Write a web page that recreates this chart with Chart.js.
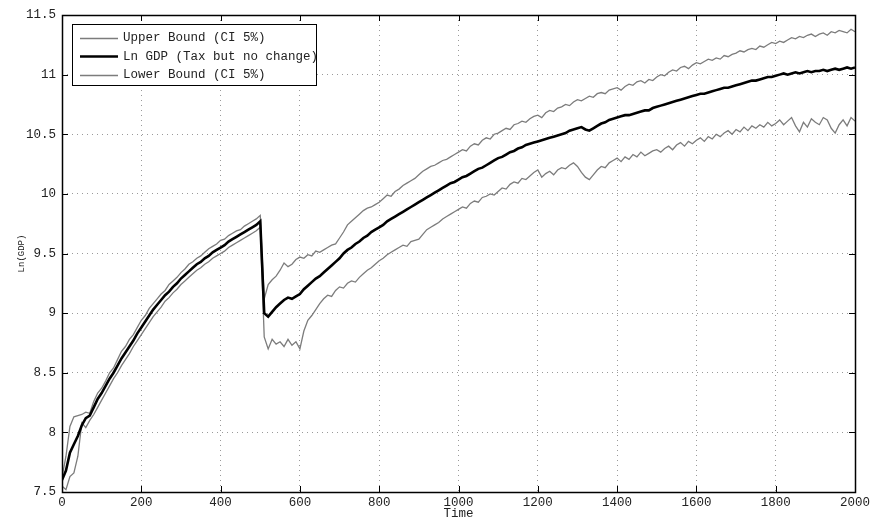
<!DOCTYPE html>
<html>
<head>
<meta charset="utf-8">
<title>Ln GDP</title>
<script src="https://cdn.jsdelivr.net/npm/chart.js@4/dist/chart.umd.min.js"></script>
<style>
  html, body { margin: 0; padding: 0; background: #fff; }
  #wrap { width: 874px; height: 521px; position: relative; }
</style>
</head>
<body>
<div id="wrap"><canvas id="gdpChart"></canvas></div>
<script>
/* ---- data ---- */
const TIME = [
  0,10,20,30,40,50,60,70,80,90,100,110,120,130,140,150,160,170,180,190,
  200,210,220,230,240,250,260,270,280,290,300,310,320,330,340,350,360,370,380,390,
  400,410,420,430,440,450,460,470,480,490,500,510,520,530,540,550,560,570,580,590,
  600,610,620,630,640,650,660,670,680,690,700,710,720,730,740,750,760,770,780,790,
  800,810,820,830,840,850,860,870,880,890,900,910,920,930,940,950,960,970,980,990,
  1000,1010,1020,1030,1040,1050,1060,1070,1080,1090,1100,1110,1120,1130,1140,1150,1160,1170,1180,1190,
  1200,1210,1220,1230,1240,1250,1260,1270,1280,1290,1300,1310,1320,1330,1340,1350,1360,1370,1380,1390,
  1400,1410,1420,1430,1440,1450,1460,1470,1480,1490,1500,1510,1520,1530,1540,1550,1560,1570,1580,1590,
  1600,1610,1620,1630,1640,1650,1660,1670,1680,1690,1700,1710,1720,1730,1740,1750,1760,1770,1780,1790,
  1800,1810,1820,1830,1840,1850,1860,1870,1880,1890,1900,1910,1920,1930,1940,1950,1960,1970,1980,1990,
  2000
];

const UPPER = [
  7.62,7.80,8.05,8.13,8.14,8.15,8.17,8.16,8.26,8.33,
  8.37,8.43,8.50,8.54,8.61,8.68,8.72,8.78,8.82,8.88,
  8.94,8.98,9.04,9.08,9.12,9.16,9.19,9.24,9.27,9.30,
  9.34,9.37,9.41,9.43,9.46,9.48,9.51,9.54,9.56,9.58,
  9.61,9.62,9.65,9.67,9.69,9.70,9.73,9.75,9.77,9.79,
  9.82,
  9.12,9.24,9.28,9.31,9.36,9.42,9.39,9.41,9.45,9.47,
  9.46,9.49,9.48,9.52,9.51,9.53,9.55,9.57,9.58,9.63,
  9.68,9.74,9.77,9.80,9.83,9.86,9.88,9.89,9.91,9.93,
  9.96,9.99,9.98,10.02,10.04,10.07,10.09,10.11,10.13,10.16,
  10.19,10.21,10.23,10.24,10.26,10.28,10.29,10.31,10.33,10.35,
  10.37,10.36,10.40,10.42,10.41,10.45,10.47,10.46,10.50,10.51,
  10.53,10.55,10.54,10.58,10.59,10.61,10.60,10.63,10.65,10.66,
  10.64,10.68,10.70,10.69,10.72,10.73,10.75,10.74,10.77,10.79,
  10.78,10.80,10.82,10.81,10.84,10.85,10.84,10.87,10.88,10.89,
  10.87,10.90,10.92,10.91,10.94,10.95,10.93,10.96,10.95,10.98,
  11.00,10.99,11.02,11.04,11.03,11.06,11.07,11.05,11.08,11.10,
  11.09,11.11,11.13,11.12,11.14,11.13,11.16,11.15,11.17,11.18,
  11.20,11.19,11.21,11.22,11.21,11.24,11.23,11.25,11.27,11.26,
  11.28,11.27,11.29,11.31,11.30,11.32,11.31,11.33,11.34,11.32,
  11.34,11.35,11.33,11.36,11.35,11.37,11.36,11.35,11.38,11.36
];

const LN_GDP = [
  7.60,7.68,7.83,7.90,7.97,8.06,8.12,8.14,8.21,8.28,
  8.33,8.39,8.45,8.50,8.56,8.62,8.67,8.72,8.77,8.83,
  8.88,8.93,8.98,9.03,9.07,9.11,9.15,9.18,9.22,9.25,
  9.29,9.32,9.35,9.38,9.41,9.43,9.46,9.48,9.51,9.53,
  9.55,9.57,9.60,9.62,9.64,9.66,9.68,9.70,9.72,9.74,
  9.77,
  9.00,8.97,9.01,9.05,9.08,9.11,9.13,9.12,9.14,9.16,
  9.20,9.23,9.26,9.29,9.31,9.34,9.37,9.40,9.43,9.46,
  9.50,9.53,9.55,9.58,9.60,9.63,9.65,9.68,9.70,9.72,
  9.74,9.77,9.79,9.81,9.83,9.85,9.87,9.89,9.91,9.93,
  9.95,9.97,9.99,10.01,10.03,10.05,10.07,10.09,10.10,10.12,
  10.14,10.15,10.17,10.19,10.21,10.22,10.24,10.26,10.28,10.30,
  10.31,10.33,10.35,10.36,10.38,10.39,10.41,10.42,10.43,10.44,
  10.45,10.46,10.47,10.48,10.49,10.50,10.51,10.53,10.54,10.55,
  10.56,10.54,10.53,10.55,10.57,10.59,10.60,10.62,10.63,10.64,
  10.65,10.66,10.66,10.67,10.68,10.69,10.70,10.70,10.72,10.73,
  10.74,10.75,10.76,10.77,10.78,10.79,10.80,10.81,10.82,10.83,
  10.84,10.84,10.85,10.86,10.87,10.88,10.89,10.89,10.90,10.91,
  10.92,10.93,10.94,10.95,10.95,10.96,10.97,10.98,10.98,10.99,
  11.00,11.01,11.00,11.01,11.02,11.01,11.02,11.03,11.02,11.03,
  11.03,11.04,11.03,11.04,11.05,11.04,11.05,11.06,11.05,11.06
];

const LOWER = [
  7.55,7.52,7.63,7.66,7.80,8.08,8.04,8.10,8.15,8.21,
  8.27,8.33,8.39,8.45,8.50,8.56,8.61,8.66,8.72,8.77,
  8.82,8.87,8.92,8.97,9.01,9.05,9.10,9.13,9.17,9.20,
  9.24,9.27,9.30,9.33,9.36,9.38,9.41,9.43,9.46,9.48,
  9.50,9.52,9.55,9.57,9.59,9.61,9.63,9.65,9.67,9.69,
  9.72,
  8.80,8.70,8.78,8.74,8.76,8.72,8.78,8.73,8.76,8.70,
  8.85,8.94,8.98,9.03,9.08,9.12,9.15,9.14,9.19,9.22,
  9.21,9.25,9.27,9.26,9.30,9.33,9.36,9.38,9.41,9.44,
  9.46,9.49,9.51,9.53,9.55,9.57,9.56,9.60,9.61,9.62,
  9.66,9.70,9.72,9.74,9.76,9.79,9.81,9.83,9.85,9.87,
  9.89,9.88,9.92,9.94,9.93,9.97,9.98,10.00,9.99,10.02,
  10.05,10.04,10.08,10.10,10.09,10.13,10.12,10.15,10.18,10.20,
  10.14,10.17,10.19,10.16,10.20,10.22,10.21,10.24,10.26,10.23,
  10.18,10.14,10.12,10.16,10.20,10.23,10.22,10.26,10.28,10.30,
  10.27,10.31,10.29,10.33,10.31,10.35,10.32,10.34,10.36,10.37,
  10.35,10.38,10.40,10.37,10.41,10.43,10.40,10.44,10.42,10.45,
  10.47,10.44,10.48,10.46,10.50,10.48,10.51,10.53,10.50,10.54,
  10.52,10.56,10.53,10.57,10.55,10.58,10.56,10.60,10.57,10.59,
  10.62,10.58,10.61,10.64,10.57,10.52,10.60,10.56,10.63,10.60,
  10.58,10.64,10.62,10.55,10.51,10.58,10.62,10.57,10.64,10.61
];

const X_TICKS = [0,200,400,600,800,1000,1200,1400,1600,1800,2000];
const Y_TICKS = [7.5,8,8.5,9,9.5,10,10.5,11,11.5];
const LEGEND_LABELS = ['Upper Bound (CI 5%)', 'Ln GDP (Tax but no change)', 'Lower Bound (CI 5%)'];

const MONO = "'Liberation Mono', 'DejaVu Sans Mono', monospace";
const GRAY = '#7c7c7c';

function pts(ys) {
    return TIME.map((t, i) => ({ x: t, y: ys[i] }));
}

// box round the plot area plus inward ticks, matlab style
const boxPlugin = {
    id: 'box',
    afterDatasetsDraw(chart) {
        const { ctx, chartArea: a, scales } = chart;
        ctx.save();
        ctx.strokeStyle = '#000';
        ctx.lineWidth = 1;
        ctx.beginPath();
        X_TICKS.forEach(v => {
            const x = Math.round(scales.x.getPixelForValue(v)) + 0.5;
            ctx.moveTo(x, a.bottom); ctx.lineTo(x, a.bottom - 6);
            ctx.moveTo(x, a.top); ctx.lineTo(x, a.top + 6);
        });
        Y_TICKS.forEach(v => {
            const y = Math.round(scales.y.getPixelForValue(v)) + 0.5;
            ctx.moveTo(a.left, y); ctx.lineTo(a.left + 6, y);
            ctx.moveTo(a.right, y); ctx.lineTo(a.right - 6, y);
        });
        ctx.stroke();
        ctx.lineWidth = 1.5;
        ctx.strokeRect(Math.round(a.left) + 0.5, Math.round(a.top) + 0.5, Math.round(a.right - a.left), Math.round(a.bottom - a.top));
        ctx.restore();
    }
};

// legend box in the upper-left corner
const legendPlugin = {
    id: 'boxLegend',
    afterDraw(chart) {
        const { ctx, chartArea: a } = chart;
        const bx = a.left + 10, by = a.top + 9, bw = 244, bh = 61;
        ctx.save();
        ctx.fillStyle = '#fff';
        ctx.fillRect(bx, by, bw, bh);
        ctx.strokeStyle = '#000';
        ctx.lineWidth = 1;
        ctx.strokeRect(bx + 0.5, by + 0.5, bw, bh);
        ctx.font = '12.5px ' + MONO;
        ctx.textBaseline = 'middle';
        chart.data.datasets.forEach((ds, i) => {
            const y = by + 13.5 + i * 18.5;
            ctx.strokeStyle = ds.borderColor;
            ctx.lineWidth = ds.borderWidth;
            ctx.beginPath();
            ctx.moveTo(bx + 8, Math.round(y) + 0.5);
            ctx.lineTo(bx + 46, Math.round(y) + 0.5);
            ctx.stroke();
            ctx.fillStyle = '#222';
            ctx.fillText(LEGEND_LABELS[i], bx + 51, y + 0.5);
        });
        ctx.restore();
    }
};

new Chart(document.getElementById('gdpChart'), {
    type: 'line',
    data: {
        datasets: [
            { label: LEGEND_LABELS[0], data: pts(UPPER), borderColor: GRAY, borderWidth: 1.3, order: 2 },
            { label: LEGEND_LABELS[1], data: pts(LN_GDP), borderColor: '#000', borderWidth: 2.6, order: 0 },
            { label: LEGEND_LABELS[2], data: pts(LOWER), borderColor: GRAY, borderWidth: 1.3, order: 1 },
        ],
    },
    options: {
        responsive: true,
        maintainAspectRatio: false,
        animation: false,
        devicePixelRatio: 1,
        layout: { padding: { top: 15, right: 19, left: 0, bottom: 0 } },
        elements: { point: { radius: 0 }, line: { tension: 0 } },
        plugins: { legend: { display: false }, tooltip: { enabled: false } },
        scales: {
            x: {
                type: 'linear', min: 0, max: 2000,
                afterFit: s => { s.height = 29; },
                afterBuildTicks: s => { s.ticks = X_TICKS.map(v => ({ value: v })); },
                ticks: { color: '#222', font: { family: MONO, size: 12.5 }, padding: 3, maxRotation: 0, callback: v => String(v) },
                grid: { color: '#9a9a9a', lineWidth: 1, drawTicks: false },
                border: { display: false, dash: [1, 4] },
                title: { display: true, text: 'Time', color: '#222', font: { family: MONO, size: 12.5 }, padding: { top: 0, bottom: 0 } },
            },
            y: {
                min: 7.5, max: 11.5,
                afterFit: s => { s.width = 62; },
                afterBuildTicks: s => { s.ticks = Y_TICKS.map(v => ({ value: v })); },
                ticks: { color: '#222', font: { family: MONO, size: 12.5 }, padding: 6, callback: v => String(v) },
                grid: { color: '#9a9a9a', lineWidth: 1, drawTicks: false },
                border: { display: false, dash: [1, 4] },
                title: { display: true, text: 'Ln(GDP)', color: '#222', font: { family: MONO, size: 9 }, padding: { top: 16, bottom: 0 } },
            },
        },
    },
    plugins: [boxPlugin, legendPlugin],
});
</script>
</body>
</html>
